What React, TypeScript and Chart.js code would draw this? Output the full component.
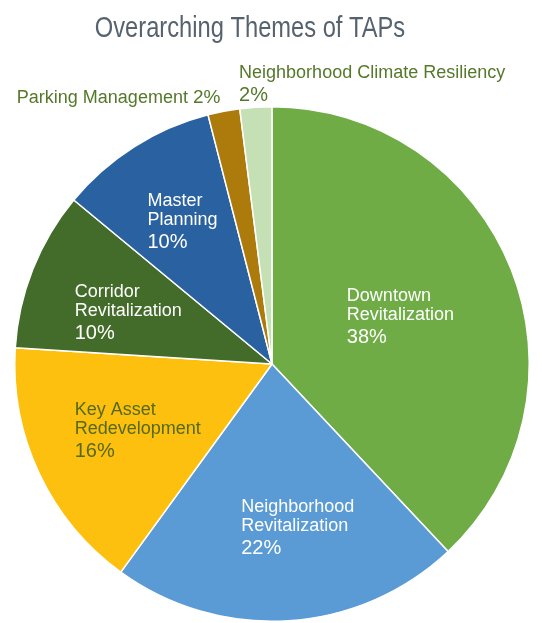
import React, { useEffect, useRef } from "react";
import { Chart, registerables } from "chart.js";

Chart.register(...registerables);

const TITLE = "Overarching Themes of TAPs";
const categories = [
  "Downtown Revitalization",
  "Neighborhood Revitalization",
  "Key Asset Redevelopment",
  "Corridor Revitalization",
  "Master Planning",
  "Parking Management",
  "Neighborhood Climate Resiliency",
];
const values = [38, 22, 16, 10, 10, 2, 2];
const sliceColors = ["#6fac46", "#5a9bd5", "#fdc00f", "#436c2a", "#2a61a0", "#ad7a0c", "#c6e0b6"];
const labelLines = [
  ["Downtown", "Revitalization"],
  ["Neighborhood", "Revitalization"],
  ["Key Asset", "Redevelopment"],
  ["Corridor", "Revitalization"],
  ["Master", "Planning"],
  ["Parking Management"],
  ["Neighborhood Climate Resiliency"],
];

// label layout (relative to pie center, in units of radius) – not data
const LABEL_ANCHORS: [number, number][] = [
  [0.291, -0.244],
  [-0.12, 0.574],
  [-0.767, 0.198],
  [-0.767, -0.26],
  [-0.484, -0.616],
  [-0.992, -1.016],
  [-0.128, -1.112],
];
const LABEL_COLORS = ["#ffffff", "#ffffff", "#55691a", "#ffffff", "#ffffff", "#55782a", "#55782a"];
const PCT_INLINE = [false, false, false, false, false, true, false];
const FONT = '"Liberation Sans", Arial, sans-serif';

const labelPlugin = {
  id: "sliceLabels",
  afterDraw(chart: any) {
    const ctx = chart.ctx;
    const meta = chart.getDatasetMeta(0);
    ctx.save();
    // title (condensed)
    ctx.fillStyle = "#56636f";
    ctx.font = "30px " + FONT;
    ctx.textAlign = "center";
    ctx.textBaseline = "alphabetic";
    ctx.save();
    ctx.translate(250, 37);
    ctx.scale(0.79, 1);
    ctx.fillText(TITLE, 0, 0);
    ctx.restore();

    ctx.textAlign = "left";
    meta.data.forEach((arc: any, i: number) => {
      const cx = arc.x;
      const cy = arc.y;
      const r = arc.outerRadius;
      const x = cx + LABEL_ANCHORS[i][0] * r;
      let y = cy + LABEL_ANCHORS[i][1] * r;
      ctx.fillStyle = LABEL_COLORS[i];
      const lines = labelLines[i];
      const pct = values[i] + "%";
      lines.forEach((ln, j) => {
        ctx.font = "18px " + FONT;
        if (j > 0) y += 19;
        ctx.fillText(ln, x, y);
        if (PCT_INLINE[i] && j === lines.length - 1) {
          const w = ctx.measureText(ln + " ").width;
          ctx.font = "19px " + FONT;
          ctx.fillText(pct, x + w, y);
        }
      });
      if (!PCT_INLINE[i]) {
        y += 23;
        ctx.font = "20px " + FONT;
        ctx.fillText(pct, x, y);
      }
    });
    ctx.restore();
  },
};

export default function App() {
  const ref = useRef<HTMLCanvasElement>(null);
  useEffect(() => {
    if (!ref.current) return;
    const chart = new Chart(ref.current, {
      type: "pie",
      data: {
        labels: categories,
        datasets: [
          {
            data: values,
            backgroundColor: sliceColors,
            borderColor: "#ffffff",
            borderWidth: 1.5,
          },
        ],
      },
      options: {
        responsive: false,
        animation: false,
        layout: { padding: { top: 106, left: 14, right: 12, bottom: 1 } },
        plugins: {
          legend: { display: false },
          tooltip: { enabled: false },
          title: { display: false },
        },
      },
      plugins: [labelPlugin],
    });
    return () => chart.destroy();
  }, []);
  return (
    <div style={{ position: "absolute", left: 0, top: 0, width: 542, height: 623, background: "#fff" }}>
      <canvas ref={ref} width={542} height={623} style={{ display: "block" }} />
    </div>
  );
}
